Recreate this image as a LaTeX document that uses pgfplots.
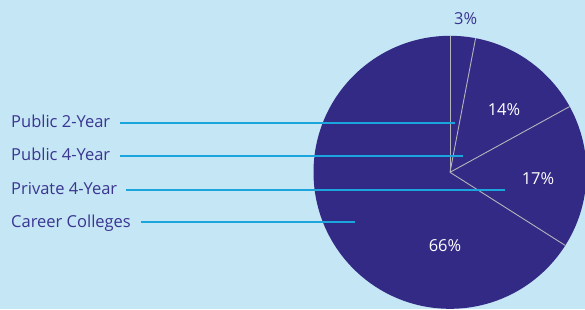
\documentclass[border=0pt]{standalone}
\usepackage{pgfplots}
\pgfplotsset{compat=1.18}
\usepackage{pgfplotstable}
\usepackage{fontspec}
\setmainfont{Open Sans}
\definecolor{bgblue}{HTML}{C5E6F5}
\definecolor{piepurple}{HTML}{332A85}
\definecolor{txtpurple}{HTML}{3A3590}
\definecolor{leader}{HTML}{1AA6DC}
\definecolor{sep}{HTML}{B4B4BC}
% slice shares in percent, clockwise from the top
\pgfplotstableread{
label share
{Public 2-Year} 3
{Public 4-Year} 14
{Private 4-Year} 17
{Career Colleges} 66
}\piedata
\begin{document}
\begin{tikzpicture}
\pgfplotstablegetelem{0}{share}\of\piedata \let\sA\pgfplotsretval
\pgfplotstablegetelem{1}{share}\of\piedata \let\sB\pgfplotsretval
\pgfplotstablegetelem{2}{share}\of\piedata \let\sC\pgfplotsretval
\pgfplotstablegetelem{3}{share}\of\piedata \let\sD\pgfplotsretval
\pgfmathsetmacro{\aA}{90}
\pgfmathsetmacro{\aB}{90-3.6*\sA}
\pgfmathsetmacro{\aC}{90-3.6*(\sA+\sB)}
\pgfmathsetmacro{\aD}{90-3.6*(\sA+\sB+\sC)}
\path[use as bounding box,fill=bgblue] (0,0) rectangle (585pt,309pt);
\begin{axis}[
  at={(0,0)}, anchor=south west,
  width=585pt, height=309pt, scale only axis,
  xmin=0, xmax=585, ymin=0, ymax=309,
  hide axis, clip=true,
]
\def\cx{450}\def\cy{136.7}\def\r{136.5}
\fill[piepurple] (axis cs:\cx,\cy) circle[radius=\r];
\draw[sep, line width=0.9pt] (axis cs:\cx,\cy) -- ++(\aA:\r pt);
\draw[sep, line width=0.9pt] (axis cs:\cx,\cy) -- ++(\aB:\r pt);
\draw[sep, line width=0.9pt] (axis cs:\cx,\cy) -- ++(\aC:\r pt);
\draw[sep, line width=0.9pt] (axis cs:\cx,\cy) -- ++(\aD:\r pt);
% leader lines
\addplot[leader, line width=1.8pt] coordinates {(120,186) (455,186)};
\addplot[leader, line width=1.8pt] coordinates {(120,153) (462.7,153)};
\addplot[leader, line width=1.8pt] coordinates {(126,119) (505,119)};
\addplot[leader, line width=1.8pt] coordinates {(140.7,87) (355,87)};
% category labels
\tikzset{cat/.style={anchor=base west, inner sep=0pt, font=\fontsize{16.5}{18}\selectfont, text=txtpurple}}
\node[cat] at (axis cs:11,181.3) {Public 2-Year};
\node[cat] at (axis cs:11,148.2) {Public 4-Year};
\node[cat] at (axis cs:11,115.0) {Private 4-Year};
\node[cat] at (axis cs:11,81.7) {Career Colleges};
% percentages
\tikzset{pct/.style={font=\fontsize{16.5}{18}\selectfont}}
\node[pct, text=txtpurple] at (axis cs:465.7,290.7) {\sA\%};
\node[pct, text=white] at (axis cs:504,199) {\sB\%};
\node[pct, text=white] at (axis cs:538,130) {\sC\%};
\node[pct, text=white] at (axis cs:445,63.3) {\sD\%};
\end{axis}
\end{tikzpicture}
\end{document}
